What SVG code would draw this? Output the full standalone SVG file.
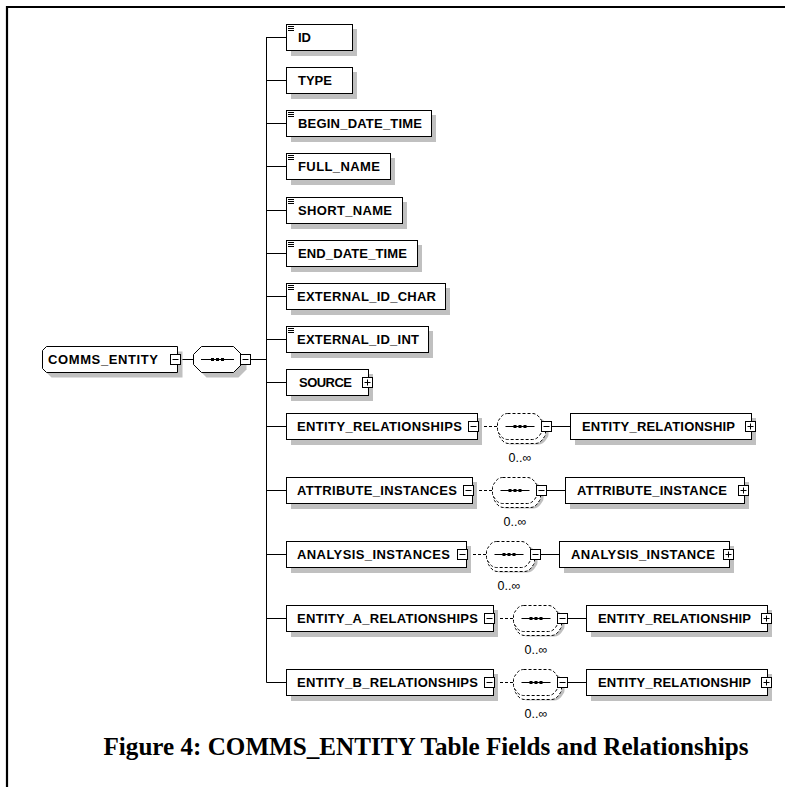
<svg xmlns="http://www.w3.org/2000/svg" width="785" height="787" viewBox="0 0 785 787">
<style>
.bx{fill:#fff;stroke:#000;stroke-width:1}
.sh{fill:#c0c0c0;stroke:none}
.ln{fill:none;stroke:#000;stroke-width:1}
.dl{fill:none;stroke:#000;stroke-width:1;stroke-dasharray:3 2}
.dsh{fill:#fff;stroke:#000;stroke-width:1;stroke-dasharray:3 2}
.lbl{font-family:"Liberation Sans",Arial,sans-serif;font-weight:bold;font-size:13px;fill:#000}
.occ{font-family:"Liberation Sans",Arial,sans-serif;font-size:12.5px;fill:#000;text-anchor:middle}
.cap{font-family:"Liberation Serif","Times New Roman",serif;font-weight:bold;font-size:25px;fill:#000}
</style>
<defs>
<g id="mn"><rect x="0.5" y="0.5" width="10" height="10" class="bx"/><path d="M2.5 5.5H8.5" class="ln"/></g>
<g id="pl"><rect x="0.5" y="0.5" width="10" height="10" class="bx"/><path d="M2.5 5.5H8.5M5.5 2.5V8.5" class="ln"/></g>
<path id="ic" d="M0 0H6M0 2H6M0 4H6" class="ln"/>
<g id="seqm">
<path d="M14,5 H41 Q45,5 48,9 L50,12 Q51,13 51,15 V21 Q51,23 50,24 L48,27 Q45,31 41,31 H14 Q10,31 7,27 L5,24 Q4,23 4,21 V15 Q4,13 5,12 L7,9 Q10,5 14,5 Z" class="sh"/>
<path d="M11,4 H38 Q42,4 45,8 L47,11 Q48,12 48,14 V20 Q48,22 47,23 L45,26 Q42,30 38,30 H11 Q7,30 4,26 L2,23 Q1,22 1,20 V14 Q1,12 2,11 L4,8 Q7,4 11,4 Z" class="dsh"/>
<path d="M10,0 H35 Q39,0 42,4 L44,7 Q45,8 45,10 V16 Q45,18 44,19 L42,22 Q39,26 35,26 H10 Q6,26 3,22 L1,19 Q0,18 0,16 V10 Q0,8 1,7 L3,4 Q6,0 10,0 Z" class="dsh"/>
<path d="M8,13 H37" class="ln"/>
<path d="M16,13 H19 M21,13 H24 M26,13 H29" fill="none" stroke="#000" stroke-width="3"/>
</g>
</defs>

<rect width="785" height="787" fill="#fff"/>
<path d="M7,787 V7 H785" fill="none" stroke="#000" stroke-width="2.2"/>

<g id="connectors">
<path class="ln" d="M266.5,37 V682.5"/>
<path class="ln" d="M181,359.5 H193.5 M251,359.5 H266.5"/>
<path class="ln" d="M266.5,37.5 H286.5 M266.5,80.5 H286.5 M266.5,123.5 H286.5 M266.5,166.5 H286.5 M266.5,210.5 H286.5 M266.5,253.5 H286.5 M266.5,296.5 H286.5 M266.5,339.5 H286.5 M266.5,382.5 H286.5 M266.5,426.5 H286.5 M266.5,490.5 H286.5 M266.5,554.5 H286.5 M266.5,618.5 H286.5 M266.5,682.5 H286.5"/>
<path class="dl" d="M479,426.5 H497 M474,490.5 H492 M468,554.5 H486 M495,618.5 H513 M495,682.5 H513"/>
<path class="ln" d="M552,426.5 H570 M547,490.5 H565 M541,554.5 H559 M568,618.5 H586 M568,682.5 H586"/>
</g>

<g id="comms_entity">
<path class="sh" d="M51.5,351.5 H182.5 V377.5 H51.5 L47.5,373.5 V355.5 Z"/>
<path class="bx" d="M46.5,346.5 H177.5 V372.5 H46.5 L42.5,368.5 V350.5 Z"/>
<text class="lbl" x="48" y="364" textLength="110" lengthAdjust="spacing">COMMS_ENTITY</text>
<use href="#mn" x="170" y="354"/>
</g>

<g id="sequence_main">
<path class="sh" d="M206.5,351.5 H238.5 L246.5,359.5 V369.5 L238.5,377.5 H206.5 L198.5,369.5 V359.5 Z"/>
<path class="bx" d="M201.5,346.5 H233.5 L241.5,354.5 V364.5 L233.5,372.5 H201.5 L193.5,364.5 V354.5 Z"/>
<path class="ln" d="M201,359.5 H234"/>
<path d="M211,359.5 H214 M216,359.5 H219 M221,359.5 H224" fill="none" stroke="#000" stroke-width="3"/>
<use href="#mn" x="240" y="354"/>
</g>

<g id="id">
<rect class="sh" x="291" y="29" width="66" height="27"/>
<rect class="bx" x="286.5" y="24.5" width="66" height="26"/>
<use href="#ic" x="288" y="26.5"/>
<text class="lbl" x="298" y="42">ID</text>
</g>
<g id="type">
<rect class="sh" x="291" y="72" width="66" height="27"/>
<rect class="bx" x="286.5" y="67.5" width="66" height="26"/>
<text class="lbl" x="298" y="85">TYPE</text>
</g>
<g id="begin_date_time">
<rect class="sh" x="291" y="115" width="145" height="27"/>
<rect class="bx" x="286.5" y="110.5" width="145" height="26"/>
<use href="#ic" x="288" y="112.5"/>
<text class="lbl" x="298" y="128" textLength="124" lengthAdjust="spacing">BEGIN_DATE_TIME</text>
</g>
<g id="full_name">
<rect class="sh" x="291" y="158" width="104" height="27"/>
<rect class="bx" x="286.5" y="153.5" width="104" height="26"/>
<use href="#ic" x="288" y="155.5"/>
<text class="lbl" x="298" y="171" textLength="82" lengthAdjust="spacing">FULL_NAME</text>
</g>
<g id="short_name">
<rect class="sh" x="291" y="202" width="116" height="27"/>
<rect class="bx" x="286.5" y="197.5" width="116" height="26"/>
<use href="#ic" x="288" y="199.5"/>
<text class="lbl" x="298" y="215" textLength="94" lengthAdjust="spacing">SHORT_NAME</text>
</g>
<g id="end_date_time">
<rect class="sh" x="291" y="245" width="131" height="27"/>
<rect class="bx" x="286.5" y="240.5" width="131" height="26"/>
<use href="#ic" x="288" y="242.5"/>
<text class="lbl" x="298" y="258" textLength="109" lengthAdjust="spacing">END_DATE_TIME</text>
</g>
<g id="external_id_char">
<rect class="sh" x="291" y="288" width="159" height="27"/>
<rect class="bx" x="286.5" y="283.5" width="159" height="26"/>
<use href="#ic" x="288" y="285.5"/>
<text class="lbl" x="297" y="301" textLength="139" lengthAdjust="spacing">EXTERNAL_ID_CHAR</text>
</g>
<g id="external_id_int">
<rect class="sh" x="291" y="331" width="142" height="27"/>
<rect class="bx" x="286.5" y="326.5" width="142" height="26"/>
<use href="#ic" x="288" y="328.5"/>
<text class="lbl" x="297" y="344" textLength="122" lengthAdjust="spacing">EXTERNAL_ID_INT</text>
</g>
<g id="source">
<rect class="sh" x="291" y="374" width="82" height="27"/>
<rect class="bx" x="286.5" y="369.5" width="82" height="26"/>
<text class="lbl" x="299" y="387" textLength="53" lengthAdjust="spacing">SOURCE</text>
<use href="#pl" x="362" y="377"/>
</g>

<g id="entity_relationships">
<rect class="sh" x="291" y="418" width="191" height="27"/>
<rect class="bx" x="286.5" y="413.5" width="191" height="26"/>
<text class="lbl" x="297" y="431" textLength="165" lengthAdjust="spacing">ENTITY_RELATIONSHIPS</text>
<use href="#mn" x="468" y="421"/>
</g>
<g id="seq_er">
<use href="#seqm" x="497.5" y="413.5"/>
<use href="#mn" x="541" y="421"/>
<text class="occ" x="520" y="462">0..∞</text>
</g>
<g id="entity_relationship_1">
<rect class="sh" x="575" y="418" width="181" height="27"/>
<rect class="bx" x="570.5" y="413.5" width="181" height="26"/>
<text class="lbl" x="582" y="431" textLength="153" lengthAdjust="spacing">ENTITY_RELATIONSHIP</text>
<use href="#pl" x="745" y="421"/>
</g>

<g id="attribute_instances">
<rect class="sh" x="291" y="482" width="186" height="27"/>
<rect class="bx" x="286.5" y="477.5" width="186" height="26"/>
<text class="lbl" x="297" y="495" textLength="160" lengthAdjust="spacing">ATTRIBUTE_INSTANCES</text>
<use href="#mn" x="463" y="485"/>
</g>
<g id="seq_ai">
<use href="#seqm" x="492.5" y="477.5"/>
<use href="#mn" x="536" y="485"/>
<text class="occ" x="515" y="526">0..∞</text>
</g>
<g id="attribute_instance">
<rect class="sh" x="570" y="482" width="179" height="27"/>
<rect class="bx" x="565.5" y="477.5" width="179" height="26"/>
<text class="lbl" x="577" y="495" textLength="150" lengthAdjust="spacing">ATTRIBUTE_INSTANCE</text>
<use href="#pl" x="738" y="485"/>
</g>

<g id="analysis_instances">
<rect class="sh" x="291" y="546" width="180" height="27"/>
<rect class="bx" x="286.5" y="541.5" width="180" height="26"/>
<text class="lbl" x="297" y="559" textLength="153" lengthAdjust="spacing">ANALYSIS_INSTANCES</text>
<use href="#mn" x="457" y="549"/>
</g>
<g id="seq_ani">
<use href="#seqm" x="486.5" y="541.5"/>
<use href="#mn" x="530" y="549"/>
<text class="occ" x="509" y="590">0..∞</text>
</g>
<g id="analysis_instance">
<rect class="sh" x="564" y="546" width="170" height="27"/>
<rect class="bx" x="559.5" y="541.5" width="170" height="26"/>
<text class="lbl" x="571" y="559" textLength="144" lengthAdjust="spacing">ANALYSIS_INSTANCE</text>
<use href="#pl" x="723" y="549"/>
</g>

<g id="entity_a_relationships">
<rect class="sh" x="291" y="610" width="207" height="27"/>
<rect class="bx" x="286.5" y="605.5" width="207" height="26"/>
<text class="lbl" x="297" y="623" textLength="181" lengthAdjust="spacing">ENTITY_A_RELATIONSHIPS</text>
<use href="#mn" x="484" y="613"/>
</g>
<g id="seq_ea">
<use href="#seqm" x="513.5" y="605.5"/>
<use href="#mn" x="557" y="613"/>
<text class="occ" x="536" y="654">0..∞</text>
</g>
<g id="entity_relationship_a">
<rect class="sh" x="591" y="610" width="181" height="27"/>
<rect class="bx" x="586.5" y="605.5" width="181" height="26"/>
<text class="lbl" x="598" y="623" textLength="153" lengthAdjust="spacing">ENTITY_RELATIONSHIP</text>
<use href="#pl" x="761" y="613"/>
</g>

<g id="entity_b_relationships">
<rect class="sh" x="291" y="674" width="207" height="27"/>
<rect class="bx" x="286.5" y="669.5" width="207" height="26"/>
<text class="lbl" x="297" y="687" textLength="181" lengthAdjust="spacing">ENTITY_B_RELATIONSHIPS</text>
<use href="#mn" x="484" y="677"/>
</g>
<g id="seq_eb">
<use href="#seqm" x="513.5" y="669.5"/>
<use href="#mn" x="557" y="677"/>
<text class="occ" x="536" y="718">0..∞</text>
</g>
<g id="entity_relationship_b">
<rect class="sh" x="591" y="674" width="181" height="27"/>
<rect class="bx" x="586.5" y="669.5" width="181" height="26"/>
<text class="lbl" x="598" y="687" textLength="153" lengthAdjust="spacing">ENTITY_RELATIONSHIP</text>
<use href="#pl" x="761" y="677"/>
</g>

<text class="cap" x="426" y="755" text-anchor="middle" textLength="645" lengthAdjust="spacingAndGlyphs">Figure 4: COMMS_ENTITY Table Fields and Relationships</text>
</svg>
